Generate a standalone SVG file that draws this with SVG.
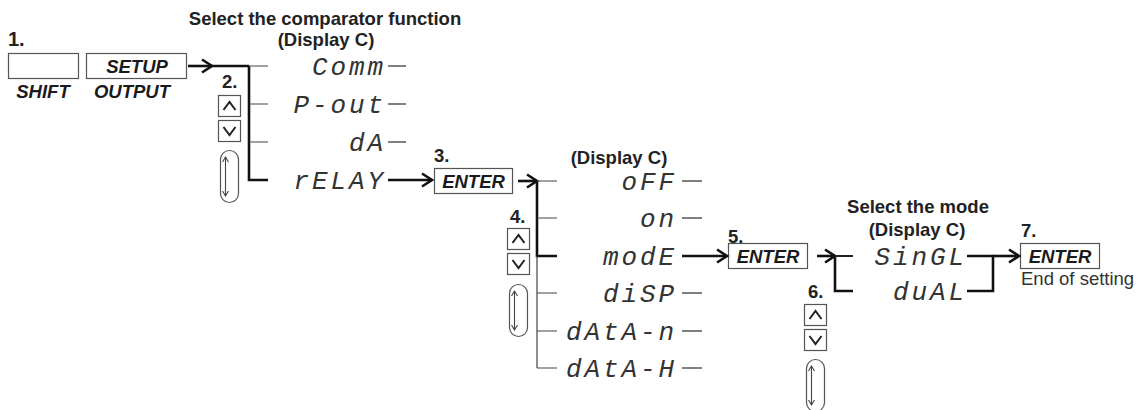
<svg xmlns="http://www.w3.org/2000/svg" width="1146" height="410" viewBox="0 0 1146 410">
<style>
.h{font-family:"Liberation Sans",Arial,sans-serif;font-weight:bold;font-size:18.5px;fill:#222}
.k{font-family:"Liberation Sans",Arial,sans-serif;font-weight:bold;font-style:italic;font-size:18.5px;fill:#1a1a1a}
.n{font-family:"Liberation Sans",Arial,sans-serif;font-size:18.5px;fill:#333}
.seg{font-family:"Liberation Mono","DejaVu Sans Mono",monospace;font-style:italic;font-size:26px;letter-spacing:2.9px;fill:#333;text-anchor:end}
.box{fill:#fff;stroke:#555;stroke-width:1.2}
.thick{stroke:#111;stroke-width:2.6;fill:none}
.mid{stroke:#222;stroke-width:2;fill:none}
.thin{stroke:#444;stroke-width:1.2;fill:none}
.tick{stroke:#555;stroke-width:1.3;fill:none}
.chev{stroke:#222;stroke-width:2;fill:none}
.dbl{stroke:#444;stroke-width:1.1;fill:none}
</style>
<defs>
<marker id="ah" markerUnits="userSpaceOnUse" markerWidth="16" markerHeight="16" refX="11" refY="7" orient="auto" overflow="visible">
<path d="M1,0.5 L11,7 L1,13.5" fill="none" stroke="#111" stroke-width="2.6"/>
</marker>
</defs>

<g id="step1">
<text class="h" x="8" y="46" style="font-size:20px">1.</text>
<rect class="box" x="8.5" y="53.5" width="70" height="25"/>
<rect class="box" x="86.5" y="53.5" width="100" height="25"/>
<text class="k" x="137" y="73" text-anchor="middle">SETUP</text>
<text class="k" x="43" y="98" text-anchor="middle">SHIFT</text>
<text class="k" x="132" y="98" text-anchor="middle">OUTPUT</text>
</g>

<g id="step2">
<text class="h" x="325" y="25" text-anchor="middle">Select the comparator function</text>
<text class="h" x="326" y="46" text-anchor="middle">(Display C)</text>
<text class="h" x="222" y="88">2.</text>
<rect class="box" x="218.5" y="95.5" width="22" height="21"/>
<path class="chev" d="M223.5,110 L229.5,102 L235.5,110"/>
<rect class="box" x="218.5" y="120.5" width="22" height="21"/>
<path class="chev" d="M223.5,127 L229.5,135 L235.5,127"/>
<rect class="box" x="220.5" y="150.5" width="18" height="52" rx="9"/>
<path class="dbl" d="M225.5,158 V195 M222.5,162 L225.5,157 L228.5,162 M222.5,191 L225.5,196 L228.5,191"/>
<text class="seg" x="386" y="75">Comm</text>
<text class="seg" x="386" y="113">P-out</text>
<text class="seg" x="386" y="151">dA</text>
<text class="seg" x="386" y="189">rELAY</text>
</g>

<g id="step3">
<text class="h" x="434" y="162">3.</text>
<rect class="box" x="434.5" y="168.5" width="78" height="25"/>
<text class="k" x="473.5" y="188" text-anchor="middle">ENTER</text>
</g>

<g id="step4">
<text class="h" x="619" y="164" text-anchor="middle">(Display C)</text>
<text class="h" x="510" y="223">4.</text>
<rect class="box" x="507.5" y="228.5" width="22" height="21"/>
<path class="chev" d="M512.5,243 L518.5,235 L524.5,243"/>
<rect class="box" x="507.5" y="253.5" width="22" height="21"/>
<path class="chev" d="M512.5,260 L518.5,268 L524.5,260"/>
<rect class="box" x="509.5" y="284.5" width="18" height="52" rx="9"/>
<path class="dbl" d="M514.5,292 V329 M511.5,296 L514.5,291 L517.5,296 M511.5,325 L514.5,330 L517.5,325"/>
<text class="seg" x="677" y="190">oFF</text>
<text class="seg" x="677" y="227">on</text>
<text class="seg" x="677" y="265">modE</text>
<text class="seg" x="677" y="302">diSP</text>
<text class="seg" x="677" y="340">dAtA-n</text>
<text class="seg" x="677" y="377">dAtA-H</text>
</g>

<g id="step5">
<text class="h" x="728" y="243">5.</text>
<rect class="box" x="728.5" y="243.5" width="79" height="25"/>
<text class="k" x="768" y="263" text-anchor="middle">ENTER</text>
</g>

<g id="step6">
<text class="h" x="918" y="213" text-anchor="middle">Select the mode</text>
<text class="h" x="917" y="236" text-anchor="middle">(Display C)</text>
<text class="h" x="808" y="298">6.</text>
<rect class="box" x="804.5" y="304.5" width="22" height="21"/>
<path class="chev" d="M809.5,319 L815.5,311 L821.5,319"/>
<rect class="box" x="804.5" y="329.5" width="22" height="21"/>
<path class="chev" d="M809.5,336 L815.5,344 L821.5,336"/>
<rect class="box" x="806.5" y="359.5" width="18" height="52" rx="9"/>
<path class="dbl" d="M811.5,367 V404 M808.5,371 L811.5,366 L814.5,371 M808.5,400 L811.5,405 L814.5,400"/>
<text class="seg" x="967" y="265">SinGL</text>
<text class="seg" x="967" y="300">duAL</text>
</g>

<g id="step7">
<text class="h" x="1021" y="237">7.</text>
<rect class="box" x="1020.5" y="243.5" width="79" height="25"/>
<text class="k" x="1060" y="263" text-anchor="middle">ENTER</text>
<text class="n" x="1021" y="285">End of setting</text>
</g>

<g id="connectors">
<line class="thick" x1="188" y1="66" x2="212" y2="66" marker-end="url(#ah)"/>
<line class="thick" x1="210" y1="66" x2="249" y2="66"/>
<path class="thick" d="M249,66 V180 H268"/>
<path class="thin" d="M249,66 H268 M249,104 H268 M249,142 H268"/>
<path class="tick" d="M388,66 H406 M388,104 H406 M388,142 H406"/>
<line class="thick" x1="388" y1="180" x2="432" y2="180" marker-end="url(#ah)"/>

<line class="thick" x1="518" y1="181" x2="537" y2="181" marker-end="url(#ah)"/>
<path class="thick" d="M537,181 V256 H557"/>
<path class="thin" d="M537,256 V368 M537,181 H557 M537,218 H557 M537,293 H557 M537,331 H557 M537,368 H557"/>
<path class="tick" d="M682,181 H702 M682,218 H702 M682,293 H702 M682,331 H702 M682,368 H702"/>
<line class="thick" x1="682" y1="256" x2="727" y2="256" marker-end="url(#ah)"/>

<line class="thick" x1="817" y1="256" x2="835" y2="256" marker-end="url(#ah)"/>
<path class="thick" d="M835,256 V291 H853"/>
<path class="mid" d="M835,256 H853"/>
<path class="thick" d="M967,256 H993 V291 H967"/>
<line class="thick" x1="993" y1="256" x2="1019" y2="256" marker-end="url(#ah)"/>
</g>
</svg>
